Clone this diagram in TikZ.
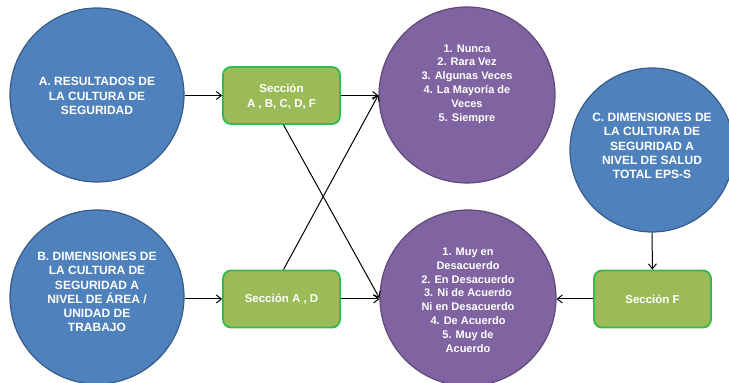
\documentclass[tikz,border=0pt]{standalone}
\usepackage{fontspec}
\setmainfont{Liberation Sans}
\usetikzlibrary{arrows.meta}
\definecolor{bluefill}{RGB}{79,129,189}
\definecolor{blueline}{RGB}{56,93,138}
\definecolor{purfill}{RGB}{128,100,162}
\definecolor{purline}{RGB}{96,73,122}
\definecolor{grnfill}{RGB}{155,187,89}
\definecolor{grnline}{RGB}{50,185,80}
\tikzset{
  bluecirc/.style={circle, fill=bluefill, draw=blueline, line width=1.2pt, inner sep=0pt},
  purcirc/.style={circle, fill=purfill, draw=purline, line width=1.2pt, inner sep=0pt},
  greenbox/.style={rectangle, rounded corners=8pt, fill=grnfill, draw=grnline, line width=1.8pt,
     minimum width=117pt, minimum height=57pt, inner sep=0pt},
  captext/.style={text=white, font=\bfseries\fontsize{12}{14.2}\selectfont, align=center, inner sep=0pt},
  lowtext/.style={text=white, font=\bfseries\fontsize{11}{13.8}\selectfont, align=center, inner sep=0pt},
  boxtext/.style={text=white, font=\bfseries\fontsize{11.5}{15}\selectfont, align=center, inner sep=0pt},
  arr/.style={-{Straight Barb[length=5pt,width=8pt]}, line width=1pt, black},
}
\begin{document}
\begin{tikzpicture}[x=1pt,y=1pt]
\useasboundingbox (0,0) rectangle (729,383);
\begin{scope}
\clip (0,0) rectangle (729,383);
% circles (y measured from top: y_tikz = 383 - y_px)
\node[bluecirc, minimum size=174pt] (ca) at (97,288) {};
\node[bluecirc, minimum size=174pt] (cb) at (97,86) {};
\node[purcirc, minimum size=176pt] (p1) at (467,288) {};
\node[purcirc, minimum size=176pt] (p2) at (468,85) {};
\node[bluecirc, minimum size=164pt] (cc) at (652,233) {};
\end{scope}
% boxes
\node[greenbox] (b1) at (281.5,287.5) {};
\node[greenbox] (b2) at (281.5,84) {};
\node[greenbox] (b3) at (652.5,84) {};
% texts
\node[captext] (ta) at (97,287) {A. RESULTADOS DE\\LA CULTURA DE\\SEGURIDAD};
\node[captext] (tb) at (97,91) {B. DIMENSIONES DE\\LA CULTURA DE\\SEGURIDAD A\\NIVEL DE ÁREA /\\UNIDAD DE\\TRABAJO};
\node[captext] (tc) at (652,237) {C. DIMENSIONES DE\\LA CULTURA DE\\SEGURIDAD A\\NIVEL DE SALUD\\TOTAL EPS-S};
\node[lowtext] (tp1) at (467,299) {1. Nunca\\2. Rara Vez\\3. Algunas Veces\\4. La Mayoría de\\Veces\\5. Siempre};
\node[lowtext] (tp2) at (468,83) {1. Muy en\\Desacuerdo\\2. En Desacuerdo\\3. Ni de Acuerdo\\Ni en Desacuerdo\\4. De Acuerdo\\5. Muy de\\Acuerdo};
\node[boxtext] (tb1) at (281.5,286) {Sección\\A , B, C, D, F};
\node[boxtext] (tb2) at (281.5,84) {Sección A , D};
\node[boxtext] (tb3) at (652.5,84) {Sección F};
% connectors
\draw[arr] (ca.east |- b1.west) -- (b1.west);
\draw[arr] (cb.east |- b2.west) -- (b2.west);
\draw[arr] (b1.east) -- (b1.east -| p1.west);
\draw[arr] (b2.east) -- (b2.east -| p2.west);
\draw[arr] ([xshift=2pt]b1.south) -- (p2.west);
\draw[arr] ([xshift=2pt]b2.north) -- (p1.west);
\draw[arr] (cc.south) -- (b3.north);
\draw[arr] (b3.west) -- (b3.west -| p2.east);
\end{tikzpicture}
\end{document}
